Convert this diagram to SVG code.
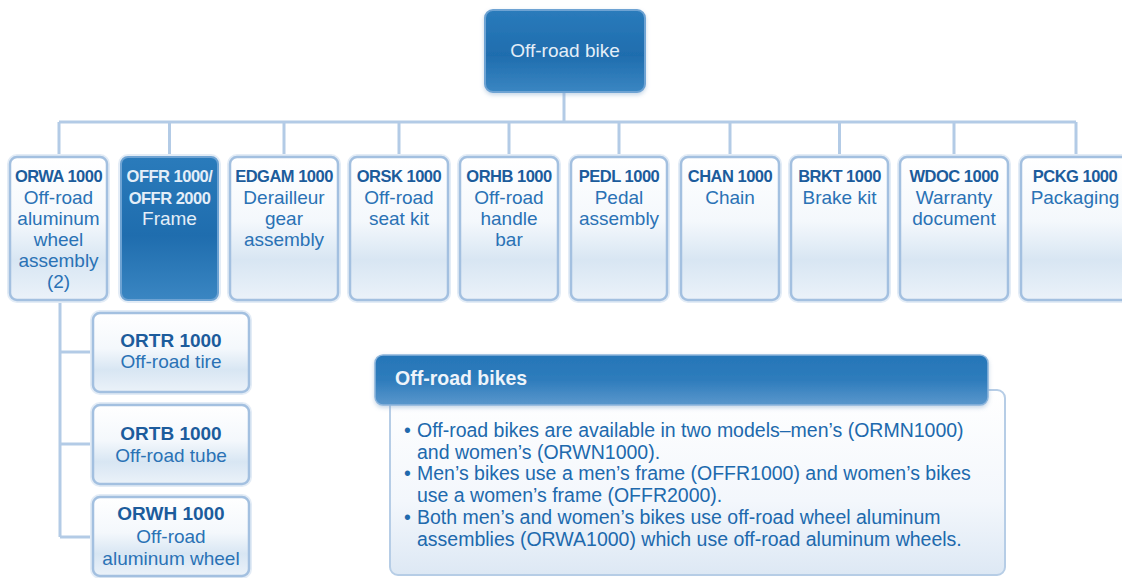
<svg xmlns="http://www.w3.org/2000/svg" width="1122" height="578" viewBox="0 0 1122 578">
  <defs>
    <linearGradient id="gDark" x1="0" y1="0" x2="0" y2="1">
      <stop offset="0" stop-color="#2a7bbb"/>
      <stop offset="0.55" stop-color="#1f6dae"/>
      <stop offset="1" stop-color="#3a86c2"/>
    </linearGradient>
    <linearGradient id="gLight" x1="0" y1="0" x2="0" y2="1">
      <stop offset="0" stop-color="#ffffff"/>
      <stop offset="0.45" stop-color="#f4f8fc"/>
      <stop offset="0.72" stop-color="#d8e6f3"/>
      <stop offset="1" stop-color="#ebf2f9"/>
    </linearGradient>
    <linearGradient id="gHead" x1="0" y1="0" x2="0" y2="1">
      <stop offset="0" stop-color="#2676b8"/>
      <stop offset="0.5" stop-color="#2e7cbc"/>
      <stop offset="1" stop-color="#5a97cc"/>
    </linearGradient>
    <linearGradient id="gBody" x1="0" y1="0" x2="0" y2="1">
      <stop offset="0" stop-color="#ffffff"/>
      <stop offset="0.6" stop-color="#f3f7fc"/>
      <stop offset="1" stop-color="#dde8f4"/>
    </linearGradient>
    <filter id="soft" x="-10%" y="-10%" width="120%" height="130%">
      <feDropShadow dx="0" dy="2" stdDeviation="2" flood-color="#7fa3c9" flood-opacity="0.45"/>
    </filter>
  </defs>
  <style>
    .box { fill: url(#gLight); stroke: #a3c0e0; stroke-width: 2.5; }
    .dark { fill: url(#gDark); stroke: #6ea3d3; stroke-width: 2; }
    .halo { fill: none; stroke: #e3ecf6; stroke-width: 6; }
    .wire { fill: none; stroke: #b3cbe6; stroke-width: 3; }
    text { font-family: "Liberation Sans", Arial, sans-serif; text-anchor: middle; }
    .code { font-size: 16.5px; font-weight: bold; fill: #1c5c9c; letter-spacing: -0.5px; }
    .desc { font-size: 19px; fill: #2a72b5; }
    .scode { font-size: 19px; font-weight: bold; fill: #1c5c9c; }
    .light { fill: #e4eef8; }
    .note { font-size: 19.5px; fill: #2069ad; text-anchor: start; }
  </style>

  <!-- connectors -->
  <g id="connectors">
    <path class="wire" d="M564 92 V122 M59 122 H1076"/>
    <path class="wire" d="M59 122 V157 M169.5 122 V157 M284 122 V157 M399 122 V157 M509 122 V157 M619 122 V157 M730 122 V157 M839.5 122 V157 M954 122 V157 M1076 122 V157"/>
    <path class="wire" d="M60 300 V537 M60 352 H93 M60 444 H93 M60 537 H93"/>
  </g>

  <!-- root -->
  <g id="root">
    <rect x="485" y="10" width="160" height="82" rx="8" class="dark" filter="url(#soft)"/>
    <text x="565" y="57" class="desc light">Off-road bike</text>
  </g>

  <!-- first level -->
  <g id="orwa">
    <rect x="10" y="157" width="97" height="143" rx="7" class="halo"/>
    <rect x="10" y="157" width="97" height="143" rx="7" class="box"/>
    <text x="58.5" y="182" class="code">ORWA 1000</text>
    <text x="58.5" y="204" class="desc">Off-road</text>
    <text x="58.5" y="225" class="desc">aluminum</text>
    <text x="58.5" y="246" class="desc">wheel</text>
    <text x="58.5" y="267" class="desc">assembly</text>
    <text x="58.5" y="288" class="desc">(2)</text>
  </g>
  <g id="offr">
    <rect x="121" y="157" width="97" height="143" rx="7" class="halo"/>
    <rect x="121" y="157" width="97" height="143" rx="7" class="dark"/>
    <text x="169.5" y="182" class="code light">OFFR 1000/</text>
    <text x="169.5" y="204" class="code light">OFFR 2000</text>
    <text x="169.5" y="225" class="desc light">Frame</text>
  </g>
  <g id="edgam">
    <rect x="230" y="157" width="108" height="143" rx="7" class="halo"/>
    <rect x="230" y="157" width="108" height="143" rx="7" class="box"/>
    <text x="284" y="182" class="code">EDGAM 1000</text>
    <text x="284" y="204" class="desc">Derailleur</text>
    <text x="284" y="225" class="desc">gear</text>
    <text x="284" y="246" class="desc">assembly</text>
  </g>
  <g id="orsk">
    <rect x="350" y="157" width="98" height="143" rx="7" class="halo"/>
    <rect x="350" y="157" width="98" height="143" rx="7" class="box"/>
    <text x="399" y="182" class="code">ORSK 1000</text>
    <text x="399" y="204" class="desc">Off-road</text>
    <text x="399" y="225" class="desc">seat kit</text>
  </g>
  <g id="orhb">
    <rect x="460" y="157" width="98" height="143" rx="7" class="halo"/>
    <rect x="460" y="157" width="98" height="143" rx="7" class="box"/>
    <text x="509" y="182" class="code">ORHB 1000</text>
    <text x="509" y="204" class="desc">Off-road</text>
    <text x="509" y="225" class="desc">handle</text>
    <text x="509" y="246" class="desc">bar</text>
  </g>
  <g id="pedl">
    <rect x="571" y="157" width="96" height="143" rx="7" class="halo"/>
    <rect x="571" y="157" width="96" height="143" rx="7" class="box"/>
    <text x="619" y="182" class="code">PEDL 1000</text>
    <text x="619" y="204" class="desc">Pedal</text>
    <text x="619" y="225" class="desc">assembly</text>
  </g>
  <g id="chan">
    <rect x="681" y="157" width="98" height="143" rx="7" class="halo"/>
    <rect x="681" y="157" width="98" height="143" rx="7" class="box"/>
    <text x="730" y="182" class="code">CHAN 1000</text>
    <text x="730" y="204" class="desc">Chain</text>
  </g>
  <g id="brkt">
    <rect x="791" y="157" width="97" height="143" rx="7" class="halo"/>
    <rect x="791" y="157" width="97" height="143" rx="7" class="box"/>
    <text x="839.5" y="182" class="code">BRKT 1000</text>
    <text x="839.5" y="204" class="desc">Brake kit</text>
  </g>
  <g id="wdoc">
    <rect x="900" y="157" width="108" height="143" rx="7" class="halo"/>
    <rect x="900" y="157" width="108" height="143" rx="7" class="box"/>
    <text x="954" y="182" class="code">WDOC 1000</text>
    <text x="954" y="204" class="desc">Warranty</text>
    <text x="954" y="225" class="desc">document</text>
  </g>
  <g id="pckg">
    <rect x="1021" y="157" width="110" height="143" rx="7" class="halo"/>
    <rect x="1021" y="157" width="110" height="143" rx="7" class="box"/>
    <text x="1075" y="182" class="code">PCKG 1000</text>
    <text x="1075" y="204" class="desc">Packaging</text>
  </g>

  <!-- wheel assembly parts -->
  <g id="ortr">
    <rect x="93" y="313" width="156" height="79" rx="7" class="halo"/>
    <rect x="93" y="313" width="156" height="79" rx="7" class="box"/>
    <text x="171" y="347" class="scode">ORTR 1000</text>
    <text x="171" y="368" class="desc">Off-road tire</text>
  </g>
  <g id="ortb">
    <rect x="93" y="405" width="156" height="79" rx="7" class="halo"/>
    <rect x="93" y="405" width="156" height="79" rx="7" class="box"/>
    <text x="171" y="440" class="scode">ORTB 1000</text>
    <text x="171" y="462" class="desc">Off-road tube</text>
  </g>
  <g id="orwh">
    <rect x="93" y="497" width="156" height="79" rx="7" class="halo"/>
    <rect x="93" y="497" width="156" height="79" rx="7" class="box"/>
    <text x="171" y="520" class="scode">ORWH 1000</text>
    <text x="171" y="543" class="desc">Off-road</text>
    <text x="171" y="565" class="desc">aluminum wheel</text>
  </g>

  <!-- notes panel -->
  <g id="notes">
    <rect x="390" y="390" width="615" height="185" rx="8" fill="url(#gBody)" stroke="#b6cde6" stroke-width="2"/>
    <rect x="375" y="355" width="613" height="50" rx="8" fill="url(#gHead)" stroke="#8db5dc" stroke-width="1.5" filter="url(#soft)"/>
    <text x="395" y="385" class="note" style="font-weight:bold;fill:#eef4fa">Off-road bikes</text>
    <text class="note">
      <tspan x="404" y="437">•</tspan><tspan x="417" y="437">Off-road bikes are available in two models–men’s (ORMN1000)</tspan>
      <tspan x="417" y="459">and women’s (ORWN1000).</tspan>
      <tspan x="404" y="480">•</tspan><tspan x="417" y="480">Men’s bikes use a men’s frame (OFFR1000) and women’s bikes</tspan>
      <tspan x="417" y="502">use a women’s frame (OFFR2000).</tspan>
      <tspan x="404" y="524">•</tspan><tspan x="417" y="524">Both men’s and women’s bikes use off-road wheel aluminum</tspan>
      <tspan x="417" y="546">assemblies (ORWA1000) which use off-road aluminum wheels.</tspan>
    </text>
  </g>
</svg>
